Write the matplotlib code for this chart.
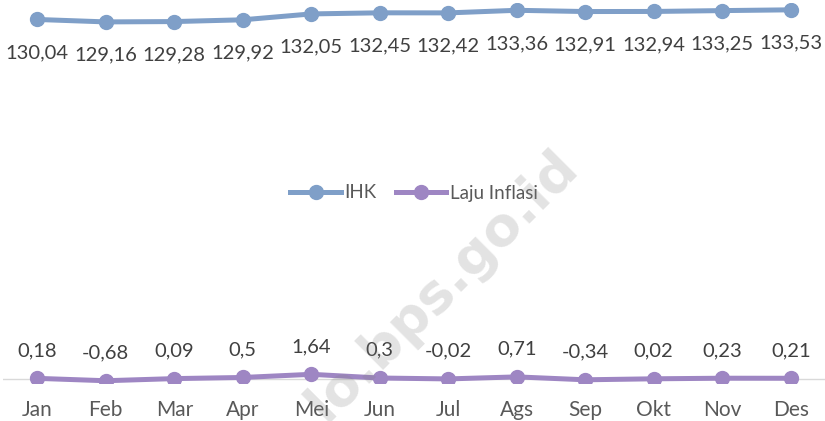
# Grafik IHK dan Laju Inflasi bulanan
import matplotlib.pyplot as plt

bulan = ['Jan', 'Feb', 'Mar', 'Apr', 'Mei', 'Jun', 'Jul', 'Ags', 'Sep', 'Okt', 'Nov', 'Des']
ihk = [130.04, 129.16, 129.28, 129.92, 132.05, 132.45, 132.42, 133.36, 132.91, 132.94, 133.25, 133.53]
inflasi = [0.18, -0.68, 0.09, 0.5, 1.64, 0.3, -0.02, 0.71, -0.34, 0.02, 0.23, 0.21]

plt.rcParams['font.family'] = ['Lato', 'DejaVu Sans']


def fmt(v):
    # format angka gaya Indonesia (koma desimal)
    return ('%g' % v).replace('.', ',')


fig = plt.figure(figsize=(8.25, 4.21), dpi=100)
ax = fig.add_axes([3 / 825, 38 / 421, 822 / 825, 380 / 421])

x = list(range(len(bulan)))

ax.axhline(0, color='#d9d9d9', lw=1, zorder=1)
ax.plot(x, ihk, color='#7f9fc8', lw=3.6, marker='o', ms=10, label='IHK', zorder=3)
ax.plot(x, inflasi, color='#9e86c3', lw=3.6, marker='o', ms=10, label='Laju Inflasi', zorder=3)

for i, v in enumerate(ihk):
    ax.annotate(fmt(v), (i, v), xytext=(0, -24), textcoords='offset points',
                ha='center', va='center', fontsize=14.5, color='#404040')
for i, v in enumerate(inflasi):
    ax.annotate(fmt(v), (i, v), xytext=(0, 20), textcoords='offset points',
                ha='center', va='center', fontsize=14.5, color='#404040')

ax.set_xlim(-0.5, len(bulan) - 0.5)
ax.set_ylim(-1.5, 136)
ax.set_xticks(x)
ax.set_xticklabels(bulan, fontsize=15, color='#595959')
ax.tick_params(axis='x', length=0, pad=12)
ax.set_yticks([])
for s in ax.spines.values():
    s.set_visible(False)
ax.patch.set_alpha(0)

ax.legend(loc='center', bbox_to_anchor=(0.5, 0.5), ncol=2, frameon=False,
          fontsize=13.5, labelcolor='#595959', handlelength=2.7, handletextpad=0.2,
          columnspacing=1.0, borderaxespad=0)

# watermark transparan di atas grafik
fig.text(0.703, 0.600, 'lo.bps.go.id', fontsize=39, fontweight='bold',
         family='DejaVu Sans', color='#808080', alpha=0.22, rotation=45,
         ha='right', va='baseline', rotation_mode='anchor')

fig.savefig('out.png', dpi=100)
